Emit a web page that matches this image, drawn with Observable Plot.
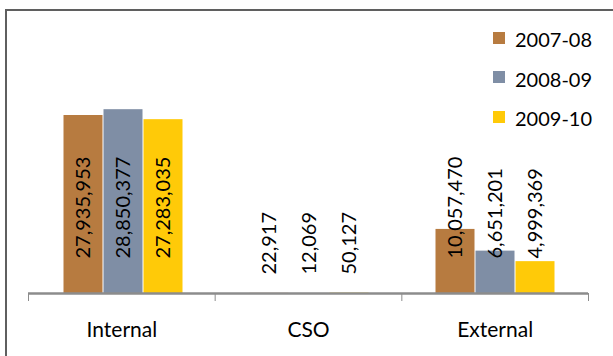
<!DOCTYPE html>
<html>
<head>
<meta charset="utf-8">
<script src="https://cdn.jsdelivr.net/npm/d3@7"></script>
<script src="https://cdn.jsdelivr.net/npm/@observablehq/plot@0.6"></script>
<style>
  html, body { margin: 0; padding: 0; background: #fff; }
  #wrap { position: relative; width: 613px; height: 356px; overflow: hidden; background: #fff; font-family: Lato, "Open Sans", sans-serif; }
  #frame { position: absolute; left: 5px; top: 9px; width: 800px; height: 600px; border: 2px solid #5f5f5f; box-sizing: border-box; }
  #wrap svg { position: absolute; left: 0; top: 0; background: transparent !important; }
  #axisplot line { stroke-width: 2.5px; }
  .legend { position: absolute; left: 493px; top: 0; }
  .legend .row { position: absolute; left: 0; display: flex; align-items: center; height: 24px; white-space: nowrap; }
  .legend .sw { width: 12px; height: 12px; margin-right: 10px; margin-top: -3px; }
  .legend .lab { font-size: 20px; color: #000; font-family: Lato, sans-serif; }
</style>
</head>
<body>
<div id="wrap"><div id="frame"></div></div>
<script>
const categories = ["Internal", "CSO", "External"];
const series = ["2007-08", "2008-09", "2009-10"];
const values2007_08 = [27935953, 22917, 10057470];
const values2008_09 = [28850377, 12069, 6651201];
const values2009_10 = [27283035, 50127, 4999369];
const colors = ["#B77B40", "#7F8EA5", "#FFCA08"];

const seriesValues = [values2007_08, values2008_09, values2009_10];
const rows = [];
categories.forEach((c, i) => {
  series.forEach((s, j) => {
    rows.push({category: c, series: s, value: seriesValues[j][i]});
  });
});
const fmt = d3.format(",");
const font = "Lato, 'Open Sans', sans-serif";

const W = 613, H = 356, ML = 28, MR = 25, MT = 70, MB = 63;

const bars = Plot.plot({
  width: W, height: H,
  marginLeft: ML, marginRight: MR, marginTop: MT, marginBottom: MB,
  style: {fontFamily: font, background: "transparent", overflow: "visible"},
  facet: {data: rows, x: "category"},
  fx: {domain: categories, paddingInner: 0.352, paddingOuter: 0.176, axis: null, label: null},
  x: {domain: series, padding: 0, axis: null},
  y: {domain: [0, 35000000], axis: null},
  color: {domain: series, range: colors},
  marks: [
    Plot.barY(rows, {x: "series", y: "value", fill: "series", insetLeft: 0.5, insetRight: 0.5}),
    Plot.text(rows, {
      filter: d => d.category !== "CSO",
      x: "series", y: () => 0, dy: -35,
      text: d => fmt(d.value), rotate: -90, textAnchor: "start",
      fontSize: 20, fill: "#000"
    }),
    Plot.text(rows, {
      filter: d => d.category === "CSO",
      x: "series", y: () => 0, dy: -19,
      text: d => fmt(d.value), rotate: -90, textAnchor: "start",
      fontSize: 20, fill: "#000"
    })
  ]
});

const axis = Plot.plot({
  width: W, height: H,
  marginLeft: ML, marginRight: MR, marginTop: MT, marginBottom: MB,
  style: {fontFamily: font, background: "transparent", color: "#8c8c8c", overflow: "visible"},
  x: {domain: [0, categories.length], ticks: categories.length, tickSize: 8, tickFormat: () => "", label: null, axis: "bottom"},
  y: {domain: [0, 1], axis: null},
  marks: [
    Plot.ruleY([0], {stroke: "#8c8c8c", strokeWidth: 2.5}),
    Plot.text(categories, {
      x: (d, i) => i + 0.5, y: () => 0, dy: 37,
      text: d => d, fontSize: 21, fill: "#000"
    })
  ]
});
axis.id = "axisplot";

const wrap = document.getElementById("wrap");
wrap.appendChild(bars);
wrap.appendChild(axis);

const legend = document.createElement("div");
legend.className = "legend";
series.forEach((s, j) => {
  const row = document.createElement("div");
  row.className = "row";
  row.style.top = (27 + j * 39.5) + "px";
  const sw = document.createElement("div");
  sw.className = "sw";
  sw.style.background = colors[j];
  const lab = document.createElement("span");
  lab.className = "lab";
  lab.textContent = s;
  row.appendChild(sw);
  row.appendChild(lab);
  legend.appendChild(row);
});
wrap.appendChild(legend);
</script>
</body>
</html>
